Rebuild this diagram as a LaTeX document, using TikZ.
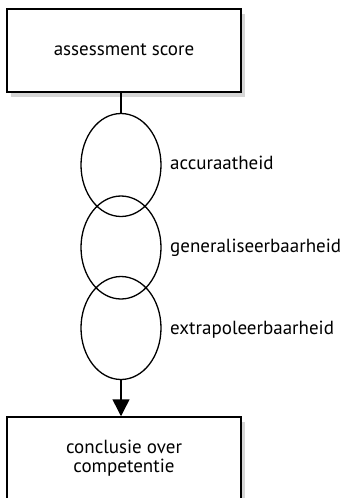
\documentclass[tikz,border=0pt]{standalone}
\usepackage{fontspec}
\setmainfont{PT Sans}
\usetikzlibrary{arrows.meta,shapes.geometric}
\newcommand\diagfont{\fontsize{19pt}{19pt}\selectfont}
\definecolor{shadowgray}{HTML}{D6D6D6}
\begin{document}
\begin{tikzpicture}[x=1pt,y=-1pt,
  box/.style={draw, line width=1.5pt, fill=white, minimum width=234pt, minimum height=83pt, inner sep=0pt,
    font=\diagfont, align=center},
  oval/.style={draw, ellipse, line width=1.3pt, minimum width=80pt, minimum height=103pt, inner sep=0pt},
  lbl/.style={anchor=west, inner sep=0pt, font=\diagfont},
  conn/.style={line width=1.5pt},
  shadowbox/.style={fill=shadowgray, draw=none, minimum width=234pt, minimum height=83pt, inner sep=0pt}
]
\useasboundingbox (0,0) rectangle (341,498);
\clip (0,0) rectangle (341,498);
\node[shadowbox] (topshadow) at (128,55) {};
\node[shadowbox, minimum height=84pt] (botshadow) at (128,463.5) {};
\node[box] (top) at (124,50.5) {\raisebox{2.5pt}{assessment score}};
\node[box, minimum height=84pt] (bot) at (124,459) {\raisebox{2.5pt}{\begin{tabular}{@{}c@{}}conclusie over\\competentie\end{tabular}}};
\node[oval] (e1) at (121,165) {};
\node[oval] (e2) at (121,247.5) {};
\node[oval] (e3) at (121,328) {};
\node[lbl] (l1) at (170,163) {accuraatheid};
\node[lbl] (l2) at (170,248) {generaliseerbaarheid};
\node[lbl] (l3) at (170,330) {extrapoleerbaarheid};
\draw[conn] (top.south -| e1.north) -- (e1.north);
\draw[conn, -{Triangle[width=17pt, length=17pt]}] (e3.south) -- (e3.south |- bot.north);
\end{tikzpicture}
\end{document}
